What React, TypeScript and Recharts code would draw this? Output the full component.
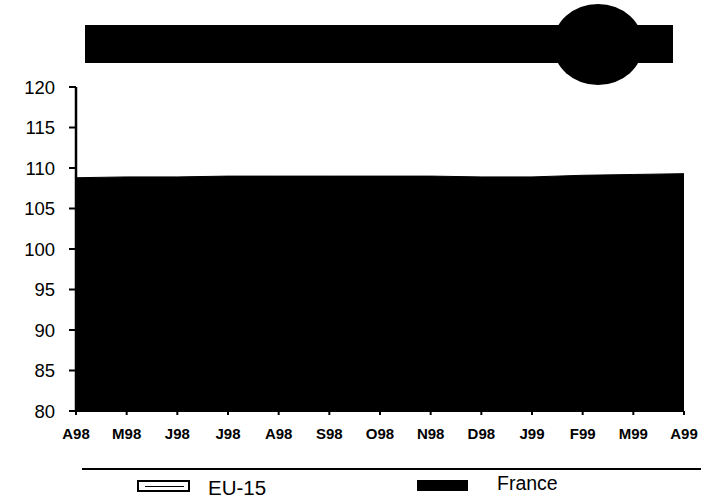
/*
 * Index chart: France vs EU-15, April 1998 - April 1999
 */
import { Area, AreaChart, XAxis, YAxis } from "recharts";

// months on the x axis
const months = [
  "A98", "M98", "J98", "J98", "A98", "S98", "O98",
  "N98", "D98", "J99", "F99", "M99", "A99",
];

// EU-15 = 100
const eu15 = [100, 100, 100, 100, 100, 100, 100, 100, 100, 100, 100, 100, 100];

// France index
const france = [
  108.8, 108.9, 108.9, 109.0, 109.0, 109.0, 109.0,
  109.0, 108.9, 108.9, 109.1, 109.2, 109.3,
];

const yTicks = [80, 85, 90, 95, 100, 105, 110, 115, 120];

const FONT = '"Liberation Sans", Arial, Helvetica, sans-serif';

export default function App() {
  const data = months.map((m, i) => ({
    key: i,
    month: m,
    eu15: eu15[i],
    france: france[i],
  }));

  return (
    <div
      style={{
        position: "absolute",
        left: 0,
        top: 0,
        width: 701,
        height: 501,
        background: "#fff",
        fontFamily: FONT,
        overflow: "hidden",
      }}
    >
      {/* title block (blacked out in the source) */}
      <svg width={701} height={90} style={{ position: "absolute", left: 0, top: 0 }}>
        <rect x={85} y={25} width={588} height={38} fill="#000" />
        <ellipse cx={598} cy={44.5} rx={45} ry={40.5} fill="#000" />
      </svg>

      <div style={{ position: "absolute", left: 0, top: 0 }}>
        <AreaChart
          width={701}
          height={460}
          data={data}
          margin={{ top: 87, right: 17, bottom: 9, left: 0 }}
        >
          <XAxis
            dataKey="key"
            tickFormatter={(i) => months[i]}
            interval={0}
            height={40}
            tickSize={4}
            tickMargin={13}
            axisLine={{ stroke: "#000", strokeWidth: 2 }}
            tickLine={{ stroke: "#000", strokeWidth: 2 }}
            tick={{ fill: "#000", fontSize: 15, fontWeight: 700, fontFamily: FONT }}
          />
          <YAxis
            type="number"
            domain={[80, 120]}
            ticks={yTicks}
            interval={0}
            width={76}
            tickSize={7}
            tickMargin={14}
            axisLine={{ stroke: "#000", strokeWidth: 2.5 }}
            tickLine={{ stroke: "#000", strokeWidth: 2 }}
            tick={{ fill: "#000", fontSize: 18.5, fontFamily: FONT }}
          />
          <Area
            type="linear"
            dataKey="eu15"
            name="EU-15"
            stroke="#000"
            strokeWidth={1}
            fill="#fff"
            fillOpacity={1}
            dot={false}
            activeDot={false}
            isAnimationActive={false}
          />
          <Area
            type="linear"
            dataKey="france"
            name="France"
            stroke="#000"
            strokeWidth={1}
            fill="#000"
            fillOpacity={1}
            dot={false}
            activeDot={false}
            isAnimationActive={false}
          />
        </AreaChart>
      </div>

      {/* legend */}
      <div
        style={{
          position: "absolute",
          left: 82,
          top: 468,
          width: 619,
          height: 0,
          borderTop: "2px solid #000",
        }}
      />
      <div
        style={{
          position: "absolute",
          left: 137,
          top: 480,
          width: 49,
          height: 8,
          border: "2px solid #000",
          background: "#fff",
        }}
      >
        <div
          style={{
            position: "absolute",
            left: 6,
            right: 4,
            top: 3.5,
            borderTop: "1.5px solid #000",
          }}
        />
      </div>
      <div
        style={{
          position: "absolute",
          left: 208,
          top: 478,
          fontSize: 20.5,
          lineHeight: "20px",
          color: "#000",
        }}
      >
        EU-15
      </div>
      <div
        style={{
          position: "absolute",
          left: 417,
          top: 480,
          width: 51,
          height: 11,
          background: "#000",
        }}
      />
      <div
        style={{
          position: "absolute",
          left: 497,
          top: 473,
          fontSize: 19.5,
          lineHeight: "20px",
          color: "#000",
        }}
      >
        France
      </div>
    </div>
  );
}
